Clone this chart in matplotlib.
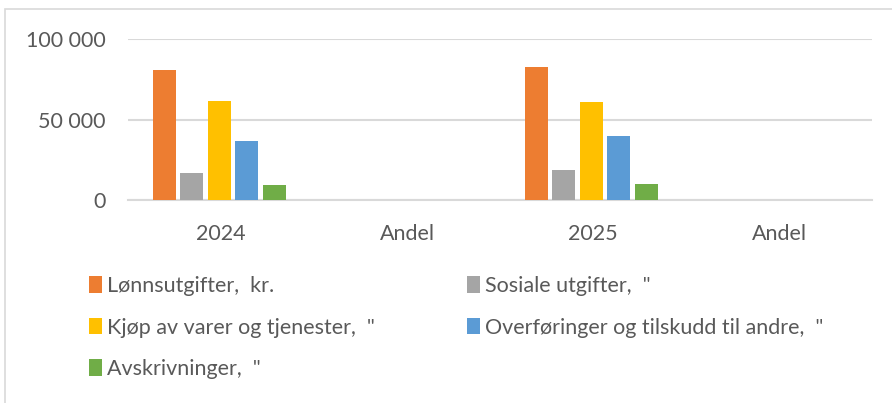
import matplotlib.pyplot as plt
import numpy as np
from matplotlib.patches import Rectangle

# data
categories = ["2024", "Andel", "2025", "Andel"]
series_names = ["Lønnsutgifter,  kr.", "Sosiale utgifter,  \"",
                "Kjøp av varer og tjenester,  \"",
                "Overføringer og tilskudd til andre,  \"",
                "Avskrivninger,  \""]
lonn = [80500, 0.49, 82800, 0.49]
sosiale = [16800, 0.1, 18800, 0.11]
kjop = [61500, 0.37, 60900, 0.36]
overf = [36800, 0.22, 39500, 0.23]
avskr = [9100, 0.05, 9700, 0.06]
colors = ["#ED7D31", "#A5A5A5", "#FFC000", "#5B9BD5", "#70AD47"]
yticks = [0, 50000, 100000]
ytick_labels = ["0", "50 000", "100 000"]

plt.rcParams['font.family'] = ['Lato', 'DejaVu Sans']
txt = "#595959"
fs = 15.5

fig = plt.figure(figsize=(8.92, 4.03), dpi=100)
ax = fig.add_axes([128/892, 1-200/403, 744/892, 161/403])

x = np.arange(len(categories))
values = [lonn, sosiale, kjop, overf, avskr]
slot = 0.148
bw = 0.124
bars = []
for i, (vals, c) in enumerate(zip(values, colors)):
    b = ax.bar(x + (i - 2) * slot - 0.01, vals, bw, color=c, label=series_names[i], zorder=3)
    bars.append(b)

ax.set_xlim(-0.5, len(categories) - 0.5)
ax.set_ylim(0, 100000)
ax.set_yticks(yticks)
ax.set_yticklabels(ytick_labels)
ax.set_xticks(x)
ax.set_xticklabels(categories)
ax.tick_params(length=0, labelsize=fs, colors=txt)
ax.tick_params(axis='x', pad=17)
ax.tick_params(axis='y', pad=16)
ax.yaxis.grid(True, color="#d9d9d9", linewidth=1.5, zorder=0)
ax.set_axisbelow(True)
for s in ["top", "right", "left"]:
    ax.spines[s].set_visible(False)
ax.spines["bottom"].set_color("#d9d9d9")
ax.spines["bottom"].set_linewidth(1.5)

# chart border (only left and top edges visible in crop)
fig.add_artist(Rectangle((5/892, -0.1), 1.2, 1 - 9/403 + 0.1, transform=fig.transFigure,
                         fill=False, edgecolor="#d9d9d9", linewidth=1.2))

order = [0, 2, 4, 1, 3]
leg = fig.legend([bars[i] for i in order], [series_names[i] for i in order],
                 ncol=2, loc="upper left", bbox_to_anchor=(89/892, 1-276/403),
                 frameon=False, fontsize=fs, labelcolor=txt,
                 handlelength=0.6, handleheight=0.8, handletextpad=0.25,
                 labelspacing=1.0, columnspacing=4.25, borderaxespad=0, borderpad=0)

fig.savefig("out.png", dpi=100)
